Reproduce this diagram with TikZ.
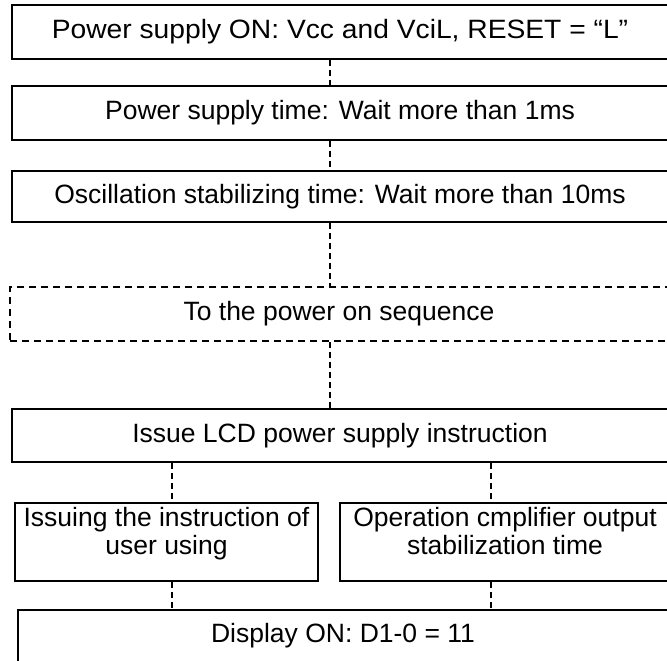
\documentclass[tikz,border=0pt]{standalone}
\usepackage{fontspec}
\setmainfont{Liberation Sans}
\usetikzlibrary{positioning}

\begin{document}
\begin{tikzpicture}[x=1pt,y=-1pt,font=\fontsize{26.5}{28}\selectfont]
 \tikzstyle{stepbox}=[rectangle,draw=black,line width=1.8pt,minimum width=656pt,minimum height=54pt,inner sep=0pt,align=center]
 \tikzstyle{seqbox}=[stepbox,line width=1.5pt,dash pattern=on 7pt off 5pt]
 \tikzstyle{halfbox}=[stepbox,minimum height=78pt,text height=51pt,text depth=27pt]
 \tikzstyle{link}=[line width=1.1pt,dash pattern=on 6pt off 4pt]
 \useasboundingbox (0,0) rectangle (667,661);
 \coordinate (spine) at (330,0);
 \coordinate (lspine) at (172,0);
 \coordinate (rspine) at (491,0);
 \node[stepbox,font=\fontsize{26.5}{28}\selectfont\addfontfeatures{FakeStretch=1.065}] (pon) at (340,32) {Power supply ON: Vcc and VciL, RESET = “L”};
 \node[stepbox] (ptime) at (340,113) {Power supply time: Wait more than 1ms};
 \node[stepbox,minimum height=51pt] (osc) at (340,196.5) {Oscillation stabilizing time: Wait more than 10ms};
 \node[seqbox,minimum width=658pt] (seq) at (339,314) {To the power on sequence};
 \node[stepbox,minimum height=53pt] (lcd) at (340,435.5) {Issue LCD power supply instruction};
 \node[halfbox,minimum width=303pt] (user) at (166.5,542) {Issuing the instruction of\\user using};
 \node[halfbox,minimum width=330pt] (amp) at (505,542) {Operation cmplifier output\\stabilization time};
 \node[stepbox,minimum width=650pt,minimum height=0pt,text height=32pt,text depth=28pt] (disp) at (343,640) {Display ON: D1-0 = 11};
 \draw[link] (spine |- pon.south) -- (spine |- ptime.north);
 \draw[link] (spine |- ptime.south) -- (spine |- osc.north);
 \draw[link] (spine |- osc.south) -- (spine |- seq.north);
 \draw[link] (spine |- seq.south) -- (spine |- lcd.north);
 \draw[link] (lspine |- lcd.south) -- (lspine |- user.north);
 \draw[link] (rspine |- lcd.south) -- (rspine |- amp.north);
 \draw[link] (lspine |- user.south) -- (lspine |- disp.north);
 \draw[link] (rspine |- amp.south) -- (rspine |- disp.north);
\end{tikzpicture}
\end{document}
